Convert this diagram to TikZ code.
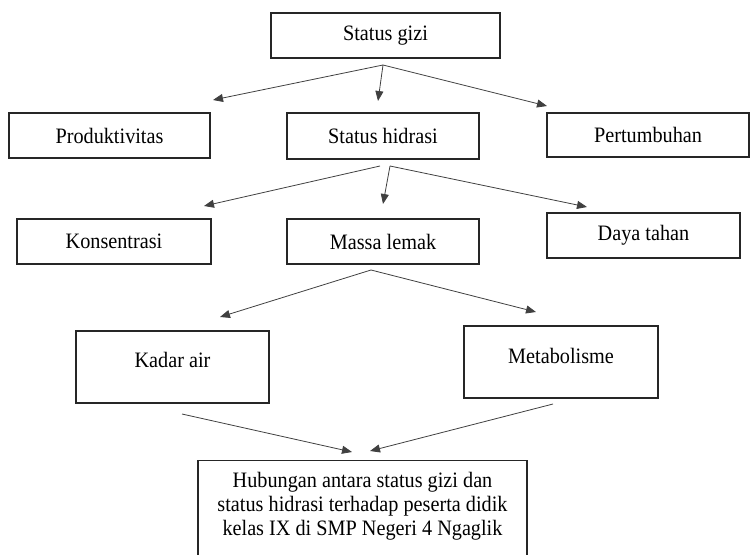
\documentclass[tikz,border=0pt]{standalone}
\usepackage{fontspec}
\setmainfont[FakeStretch=0.92]{Liberation Serif}
\usetikzlibrary{arrows.meta}
\begin{document}
\begin{tikzpicture}[x=1pt,y=-1pt,
  box/.style={draw=black!85,line width=1.1pt,inner sep=0pt,font=\fontsize{22}{24}\selectfont},
  arr/.style={draw=black!75,line width=0.8pt,-{Triangle[length=10pt,width=8pt]}},
  lbl/.style={inner sep=0pt,font=\fontsize{22}{24}\selectfont,align=center}]
\useasboundingbox (0,0) rectangle (751,554);
% boxes
\node[box,minimum width=229pt,minimum height=45pt] (gizi) at (385.5,35.5) {Status gizi};
\node[box,minimum width=201pt,minimum height=45pt] (prod) at (109.5,135.5) {Produktivitas};
\node[box,minimum width=192pt,minimum height=46pt] (hidr) at (383,136) {Status hidrasi};
\node[box,minimum width=202pt,minimum height=44pt] (pert) at (648,135) {Pertumbuhan};
\node[box,minimum width=194pt,minimum height=45pt] (kons) at (114,241.5) {Konsentrasi};
\node[box,minimum width=192pt,minimum height=45pt] (mass) at (383,241.5) {Massa lemak};
\node[box,minimum width=193pt,minimum height=45pt] (daya) at (643.5,235.5) {Daya tahan};
\node[box,minimum width=193pt,minimum height=72pt] (kadar) at (172.5,367) {};
\node[lbl] (kadart) at (172.5,360) {Kadar air};
\node[box,minimum width=194pt,minimum height=72pt] (meta) at (561,362) {};
\node[lbl] (metat) at (561,356) {Metabolisme};
\node[box,minimum width=329pt,minimum height=100pt,anchor=north] (hub) at (362.5,460) {};
\node[lbl] (hubt) at (362.5,506) {Hubungan antara status gizi dan\\status hidrasi terhadap peserta didik\\kelas IX di SMP Negeri 4 Ngaglik};
% arrow points
\coordinate (g0) at (383,65);
\coordinate (g1) at (213,100);
\coordinate (g2) at (378,101);
\coordinate (g3) at (547,106);
\coordinate (h0a) at (380,166);
\coordinate (h0) at (390,166);
\coordinate (h1) at (204,206);
\coordinate (h2) at (383,204);
\coordinate (h3) at (587,207);
\coordinate (m0) at (371,270);
\coordinate (m1) at (220,317);
\coordinate (m2) at (536,312);
\coordinate (k0) at (182,414);
\coordinate (k1) at (352,452);
\coordinate (t0) at (553,404);
\coordinate (t1) at (370,451);
% arrows
\draw[arr] (g0) -- (g1);
\draw[arr] (g0) -- (g2);
\draw[arr] (g0) -- (g3);
\draw[arr] (h0a) -- (h1);
\draw[arr] (h0) -- (h2);
\draw[arr] (h0) -- (h3);
\draw[arr] (m0) -- (m1);
\draw[arr] (m0) -- (m2);
\draw[arr] (k0) -- (k1);
\draw[arr] (t0) -- (t1);
\end{tikzpicture}
\end{document}
